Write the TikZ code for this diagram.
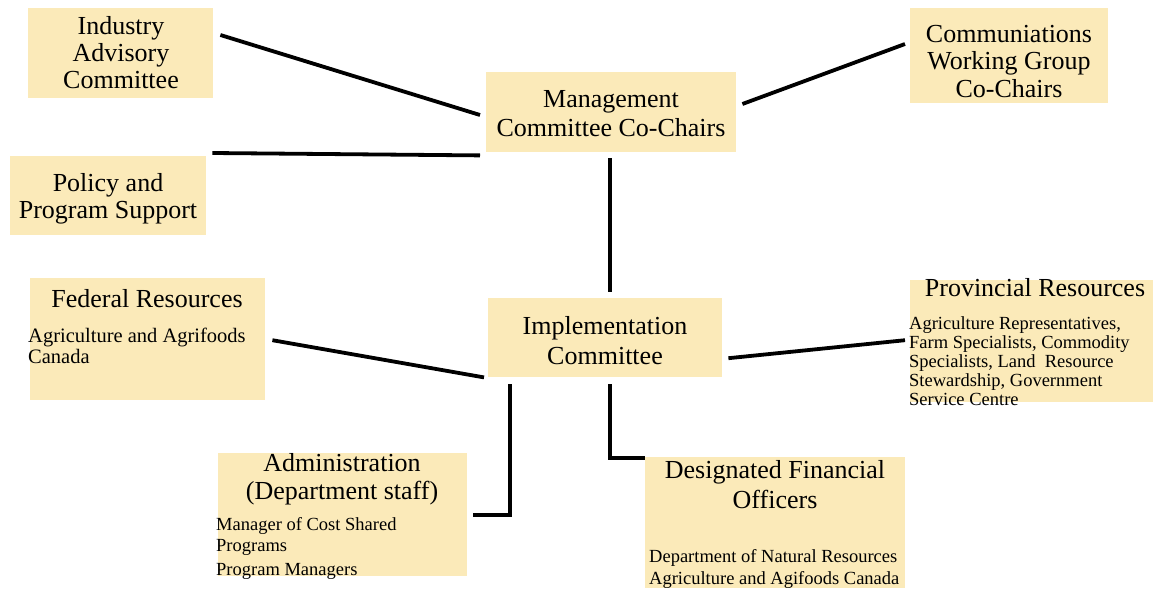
\documentclass[tikz,border=0pt]{standalone}
\usepackage{fontspec}
\setmainfont{Liberation Serif}
\definecolor{boxfill}{RGB}{251,234,185}
\tikzset{
  orgbox/.style={fill=boxfill, draw=none, inner sep=0, anchor=north west},
  title/.style={inner sep=0, anchor=north, align=center, font=\fontsize{26}{28}\selectfont},
  small/.style={inner sep=0, anchor=north west, align=left, font=\fontsize{18.5}{19}\selectfont},
  link/.style={line width=3.8pt, black}
}
\begin{document}
\begin{tikzpicture}[x=1pt,y=-1pt]
\useasboundingbox (0,0) rectangle (1153,589);
% boxes
\node[orgbox, minimum width=185, minimum height=90] (ind) at (28,8) {};
\node[orgbox, minimum width=250, minimum height=80] (mgmt) at (486,72) {};
\node[orgbox, minimum width=198, minimum height=95] (comm) at (910,8) {};
\node[orgbox, minimum width=196, minimum height=79] (pol) at (10,156) {};
\node[orgbox, minimum width=235, minimum height=122] (fed) at (30,278) {};
\node[orgbox, minimum width=234, minimum height=79] (impl) at (488,298) {};
\node[orgbox, minimum width=243, minimum height=122] (prov) at (910,280) {};
\node[orgbox, minimum width=249, minimum height=123] (adm) at (218,453) {};
\node[orgbox, minimum width=260, minimum height=131] (dfo) at (645,457) {};
% titles
\node[title, font=\fontsize{26}{27}\selectfont] (indt) at (121,16) {Industry\\Advisory\\Committee};
\node[title, font=\fontsize{26}{29}\selectfont] (mgmtt) at (611,90) {Management\\Committee Co-Chairs};
\node[title, font=\fontsize{26}{27.5}\selectfont] (commt) at (1009,25) {Communiations\\Working Group\\Co-Chairs};
\node[title, font=\fontsize{26}{27}\selectfont] (polt) at (108,173) {Policy and\\Program Support};
\node[title] (fedt) at (147,289) {Federal Resources};
\node[title, font=\fontsize{26}{30}\selectfont] (implt) at (605,316) {Implementation\\Committee};
\node[title] (provt) at (1035,278) {Provincial Resources};
\node[title, font=\fontsize{26}{28}\selectfont] (admt) at (342,453) {Administration\\(Department staff)};
\node[title, font=\fontsize{26}{30}\selectfont] (dfot) at (775,460) {Designated Financial\\Officers};
% details
\node[small, font=\fontsize{20.5}{21}\selectfont] (fedd) at (28,328) {Agriculture and Agrifoods\\Canada};
\node[small] (provd) at (909,316.5) {Agriculture Representatives,\\Farm Specialists, Commodity\\Specialists, Land~ Resource\\Stewardship, Government\\Service Centre};
\node[small, font=\fontsize{18.5}{21}\selectfont] (admd) at (216,517.5) {Manager of Cost Shared\\Programs};
\node[small] (admd2) at (216,563.5) {Program Managers};
\node[small, font=\fontsize{18.5}{22}\selectfont] (dfod) at (649,549.5) {Department of Natural Resources\\Agriculture and Agifoods Canada};
% connectors
\draw[link] ([shift={(7,27)}]ind.north east) -- ([shift={(-6,43)}]mgmt.north west);
\draw[link] ([shift={(-5,36)}]comm.north west) -- ([shift={(6,32)}]mgmt.north east);
\draw[link] ([shift={(6,-3)}]pol.north east) -- ([shift={(-6,3)}]mgmt.south west);
\draw[link] ([shift={(-1,6)}]mgmt.south) -- ([shift={(5,-6)}]impl.north);
\draw[link] ([shift={(7,1)}]fed.east) -- ([shift={(-4,0)}]impl.south west);
\draw[link] ([shift={(-5,-1)}]prov.west) -- ([shift={(6,20.5)}]impl.east);
\draw[link] ([shift={(22,7)}]impl.south west) |- ([shift={(6,0)}]adm.east);
\draw[link] ([shift={(5,7)}]impl.south) |- ([shift={(0,1)}]dfo.north west);
\end{tikzpicture}
\end{document}
